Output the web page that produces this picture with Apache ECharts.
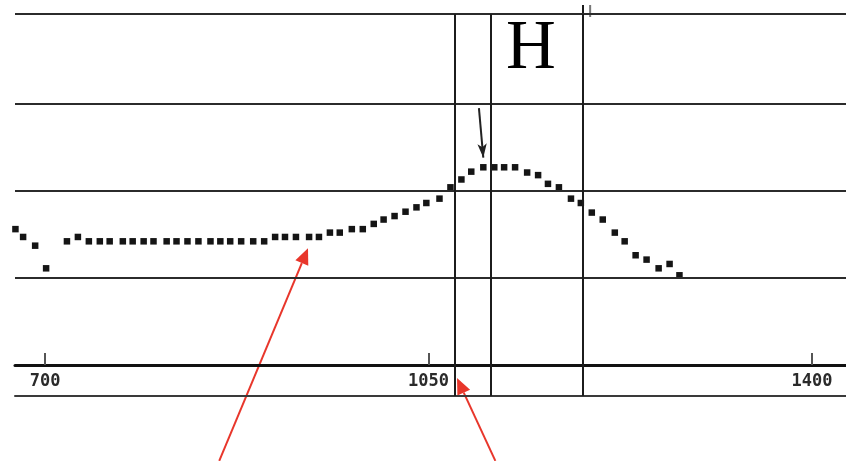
<!DOCTYPE html>
<html>
<head>
<meta charset="utf-8">
<script src="https://cdn.jsdelivr.net/npm/echarts@6/dist/echarts.min.js"></script>
<style>
    html, body { margin: 0; padding: 0; background: #fff; }
    #spectrum_chart { width: 846px; height: 461px; }
</style>
</head>
<body>
<div id="spectrum_chart"></div>
<script>
// wavelength of each sample and the measured level
var waveData = [673, 680, 691, 701, 720, 730, 740, 750, 759, 771, 780, 790, 799, 811, 820, 830, 840, 851, 860, 869,
    879, 890, 900, 910, 919, 929, 941, 950, 960, 969, 980, 990, 1000, 1009, 1019, 1029, 1039, 1048, 1060, 1070,
    1080, 1089, 1100, 1110, 1119, 1129, 1140, 1150, 1159, 1169, 1180, 1189, 1199, 1209, 1220, 1229, 1239, 1249, 1260, 1270, 1279];
var levelData = [1.56, 1.47, 1.37, 1.11, 1.42, 1.47, 1.42, 1.42, 1.42, 1.42, 1.42, 1.42, 1.42, 1.42, 1.42, 1.42, 1.42, 1.42, 1.42, 1.42,
    1.42, 1.42, 1.42, 1.47, 1.47, 1.47, 1.47, 1.47, 1.52, 1.52, 1.56, 1.56, 1.62, 1.67, 1.71, 1.76, 1.81, 1.86, 1.91, 2.04,
    2.13, 2.22, 2.27, 2.27, 2.27, 2.27, 2.21, 2.18, 2.08, 2.04, 1.91, 1.86, 1.75, 1.67, 1.52, 1.42, 1.26, 1.21, 1.11, 1.16, 1.03];
var tickLabels = [700, 1050, 1400];
var levelLines = [1, 2, 3, 4.03];
var markerLines = [1074, 1107, 1191];
var peakArrow = [[1096, 2.95], [1100, 2.38]];
// red pointers: [tail, tip]
var redArrows = [
    [[859, -1.1], [940, 1.34]],
    [[1111, -1.1], [1076, -0.15]]
];

initChart();

function initChart() {
    var myChart = echarts.init(document.getElementById('spectrum_chart'));

    var points = waveData.map(function (w, i) { return [w, levelData[i]]; });

    var lineData = levelLines.map(function (v) {
        return {yAxis: v, lineStyle: {color: '#2b2b2b', width: 2, type: 'solid'}};
    }).concat(markerLines.map(function (v) {
        return {xAxis: v, lineStyle: {color: '#1c1c1c', width: 2, type: 'solid'}};
    }));
    lineData.push([
        {coord: peakArrow[0], symbol: 'none'},
        {coord: peakArrow[1], symbol: 'arrow', symbolSize: [7, 14], lineStyle: {color: '#222', width: 2, type: 'solid'}}
    ]);

    var option = {
        animation: false,
        backgroundColor: '#fff',
        grid: {left: 15, right: 0, top: 14, bottom: 65, outerBoundsMode: 'none'},
        xAxis: [
            {
                type: 'value', min: 672.6, max: 1431,
                axisLine: {show: true, onZero: false, lineStyle: {color: '#3a3a3a', width: 2}},
                axisTick: {show: false}, axisLabel: {show: false}, splitLine: {show: false}
            },
            {
                type: 'value', min: 672.6, max: 1431, position: 'bottom', offset: -31,
                axisLine: {show: true, onZero: false, lineStyle: {color: '#111', width: 3}},
                axisTick: {show: true, inside: true, length: 12, customValues: tickLabels, lineStyle: {color: '#555', width: 2}},
                axisLabel: {
                    show: true, customValues: tickLabels, margin: 8,
                    formatter: function (v) { return String(v); },
                    color: '#2a2a2a', fontSize: 17, fontWeight: 'bold', fontFamily: 'DejaVu Sans Mono'
                },
                splitLine: {show: false}
            }
        ],
        yAxis: {
            type: 'value', min: -0.356, max: 4.03,
            axisLine: {show: false}, axisTick: {show: false}, axisLabel: {show: false}, splitLine: {show: false}
        },
        series: [
            {
                name: 'level',
                type: 'scatter',
                xAxisIndex: 0, yAxisIndex: 0,
                symbol: 'rect', symbolSize: 6.5,
                itemStyle: {color: '#151515', opacity: 1},
                data: points,
                markLine: {
                    silent: true, symbol: 'none', animation: false,
                    label: {show: false},
                    emphasis: {disabled: true},
                    data: lineData
                }
            }
        ],
        graphic: [
            {type: 'text', x: 531, y: 50, style: {text: 'H', fontFamily: 'Liberation Serif', fontSize: 69, fill: '#000', align: 'center', verticalAlign: 'middle'}}
        ]
    };

    myChart.setOption(option);

    // annotation arrows placed through the chart's own scale
    var toPx = function (p) { return myChart.convertToPixel({xAxisIndex: 0, yAxisIndex: 0}, p); };
    var extra = [];
    redArrows.forEach(function (a) {
        var s = toPx(a[0]), t = toPx(a[1]);
        var dx = t[0] - s[0], dy = t[1] - s[1], len = Math.sqrt(dx * dx + dy * dy);
        var ux = dx / len, uy = dy / len, hl = 16, hw = 7;
        var bx = t[0] - ux * hl, by = t[1] - uy * hl;
        extra.push({type: 'line', shape: {x1: s[0], y1: s[1], x2: bx, y2: by}, style: {stroke: '#e8362b', lineWidth: 2}});
        extra.push({type: 'polygon', shape: {points: [[t[0], t[1]], [bx - uy * hw, by + ux * hw], [bx + uy * hw, by - ux * hw]]}, style: {fill: '#e8362b'}});
    });
    // small marks above the top rule
    [1191, 1197.5].forEach(function (w, i) {
        var top = toPx([w, 4.03]);
        extra.push({type: 'line', shape: {x1: top[0], y1: top[1] - 9, x2: top[0], y2: top[1] + (i ? 3 : 0)}, style: {stroke: i ? '#777' : '#1c1c1c', lineWidth: 2}});
    });
    myChart.setOption({graphic: option.graphic.concat(extra)});
}
</script>
</body>
</html>
